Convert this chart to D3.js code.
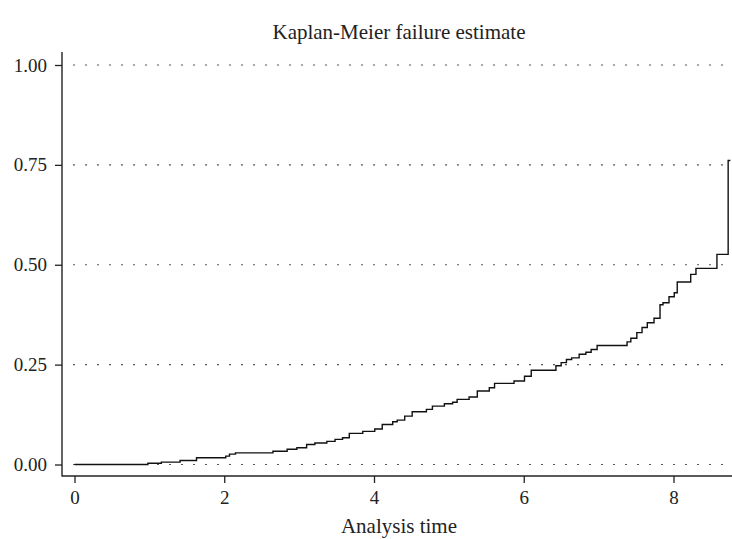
<!DOCTYPE html>
<html>
<head>
<meta charset="utf-8">
<script src="https://cdn.jsdelivr.net/npm/d3@7"></script>
<style>
  html, body { margin: 0; padding: 0; background: #fff; }
  svg { display: block; }
</style>
</head>
<body>
<svg id="chart" width="732" height="539"></svg>
<script>
// ---- data ----
const times = [0, 0.98, 1.16, 1.41, 1.63, 2.02, 2.07, 2.15, 2.65, 2.84, 2.97, 3.10, 3.21, 3.37, 3.48, 3.58,
  3.67, 3.85, 4.01, 4.11, 4.25, 4.31, 4.41, 4.51, 4.70, 4.78, 4.94, 5.05, 5.11, 5.27, 5.38, 5.54, 5.61,
  5.87, 6.01, 6.10, 6.43, 6.50, 6.57, 6.64, 6.74, 6.83, 6.90, 6.98, 7.38, 7.43, 7.51, 7.58, 7.65, 7.74,
  7.82, 7.86, 7.94, 8.01, 8.05, 8.23, 8.30, 8.58, 8.73];
const failure = [0, 0.003, 0.006, 0.010, 0.017, 0.021, 0.026, 0.029, 0.033, 0.038, 0.042, 0.050, 0.054, 0.058, 0.063, 0.067,
  0.078, 0.083, 0.089, 0.100, 0.107, 0.111, 0.121, 0.132, 0.138, 0.146, 0.152, 0.156, 0.163, 0.169, 0.184, 0.192, 0.203,
  0.209, 0.221, 0.236, 0.247, 0.255, 0.263, 0.267, 0.276, 0.281, 0.288, 0.298, 0.307, 0.316, 0.330, 0.343, 0.355, 0.366,
  0.400, 0.405, 0.420, 0.430, 0.457, 0.476, 0.491, 0.526, 0.761];
const endTime = 8.76;
const xTicks = [0, 2, 4, 6, 8];
const yTicks = [0, 0.25, 0.5, 0.75, 1.0];
const yTickLabels = ["0.00", "0.25", "0.50", "0.75", "1.00"];
const titleText = "Kaplan-Meier failure estimate";
const xLabelText = "Analysis time";

const FONT = "'Liberation Serif', 'DejaVu Serif', 'Times New Roman', serif";

// ---- layout ----
const svg = d3.select("#chart");
const axisX = 62, axisYpos = 476, frameTop = 52, frameRight = 732;
const x = d3.scaleLinear().domain([0, 8]).range([74.5, 673.5]);
const y = d3.scaleLinear().domain([0, 1]).range([464.5, 65]);

// grid lines (dotted)
svg.append("g").selectAll("line").data(yTicks).join("line")
  .attr("x1", 73).attr("x2", frameRight)
  .attr("y1", d => y(d)).attr("y2", d => y(d))
  .attr("stroke", "#555").attr("stroke-width", 1.2)
  .attr("stroke-dasharray", "2,10");

// y axis
const yAxis = d3.axisLeft(y).tickValues(yTicks)
  .tickFormat((d, i) => yTickLabels[i]).tickSize(7).tickPadding(8).tickSizeOuter(0);
const gy = svg.append("g").attr("transform", `translate(${axisX},0)`).call(yAxis)
  .attr("font-family", null).attr("font-size", null);
gy.select(".domain").remove();
gy.selectAll(".tick line").attr("stroke", "#222").attr("stroke-width", 1.3);
gy.selectAll(".tick text").style("font-family", FONT).style("font-size", "19px").attr("fill", "#222");

// x axis
const xAxis = d3.axisBottom(x).tickValues(xTicks).tickFormat(d3.format("d"))
  .tickSize(7).tickPadding(8).tickSizeOuter(0);
const gx = svg.append("g").attr("transform", `translate(0,${axisYpos})`).call(xAxis)
  .attr("font-family", null).attr("font-size", null);
gx.select(".domain").remove();
gx.selectAll(".tick line").attr("stroke", "#222").attr("stroke-width", 1.3);
gx.selectAll(".tick text").style("font-family", FONT).style("font-size", "19px").attr("fill", "#222");

// axis frame lines
svg.append("line").attr("x1", axisX).attr("x2", axisX).attr("y1", frameTop).attr("y2", axisYpos + 0.5)
  .attr("stroke", "#222").attr("stroke-width", 1.4);
svg.append("line").attr("x1", axisX).attr("x2", frameRight).attr("y1", axisYpos).attr("y2", axisYpos)
  .attr("stroke", "#222").attr("stroke-width", 1.4);

// KM step curve
const pts = times.map((t, i) => [t, failure[i]]);
pts.push([endTime, failure[failure.length - 1]]);
const line = d3.line().x(d => x(d[0])).y(d => y(d[1])).curve(d3.curveStepAfter);
svg.append("path").datum(pts).attr("d", line)
  .attr("fill", "none").attr("stroke", "#111").attr("stroke-width", 1.4);

// title & axis label
svg.append("text").attr("x", 399).attr("y", 39).attr("text-anchor", "middle")
  .style("font-family", FONT).style("font-size", "21px").attr("fill", "#222").text(titleText);
svg.append("text").attr("x", 399).attr("y", 533).attr("text-anchor", "middle")
  .style("font-family", FONT).style("font-size", "21px").attr("fill", "#222").text(xLabelText);
</script>
</body>
</html>
